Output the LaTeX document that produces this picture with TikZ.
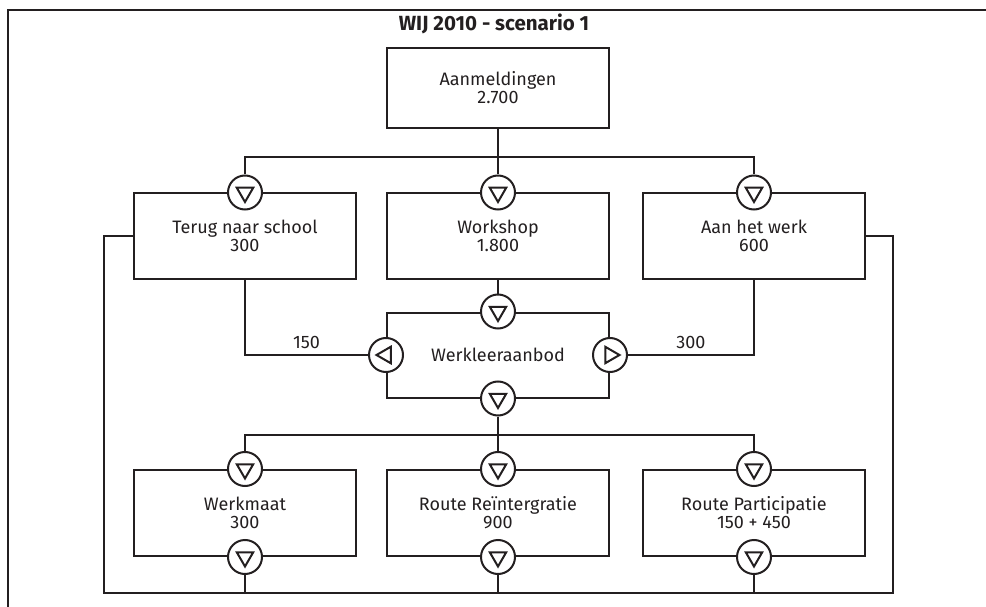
\documentclass[tikz,border=0pt]{standalone}
\usepackage{fontspec}
\setmainfont{Fira Sans}
\usetikzlibrary{shapes.geometric, positioning}
\definecolor{inkgrey}{RGB}{35,31,32}

\begin{document}
\begin{tikzpicture}[x=1pt, y=-1pt,
  box/.style={draw=inkgrey, line width=2pt, minimum width=222pt, minimum height=85pt, align=center, text=inkgrey, font=\fontsize{18}{18}\selectfont},
  valve/.style={circle, draw=inkgrey, fill=white, line width=2pt, minimum size=34pt, inner sep=0pt},
  tri/.style={regular polygon, regular polygon sides=3, draw=inkgrey, line width=2pt, minimum size=19pt, inner sep=0pt},
  flow/.style={draw=inkgrey, line width=2pt},
  lbl/.style={text=inkgrey, font=\fontsize{18}{18}\selectfont}
]
  \useasboundingbox (0,0) rectangle (986,607);
  \draw[inkgrey, line width=2.6pt] (8,607) -- (8,10) -- (986,10);

  \node[text=inkgrey, font=\fontsize{20.5}{20}\selectfont\bfseries] (title) at (494,24) {WIJ 2010 - scenario 1};

  % boxes
  \node[box, minimum height=80pt] (aanm) at (498,88) {Aanmeldingen\\2.700};
  \node[box] (terug) at (245,236) {Terug naar school\\300};
  \node[box] (workshop) at (498,236) {Workshop\\1.800};
  \node[box] (werk) at (754,236) {Aan het werk\\600};
  \node[box] (wla) at (498,355) {Werkleeraanbod};
  \node[box, minimum height=86pt] (maat) at (245,513) {Werkmaat\\300};
  \node[box, minimum height=86pt] (reint) at (498,513) {Route Reïntergratie\\900};
  \node[box, minimum height=86pt] (part) at (754,513) {Route Participatie\\150 + 450};

  % valves
  \foreach \n in {terug, workshop, werk, wla, maat, reint, part} {
    \node[valve] (v\n) at (\n.north) {};
    \node[tri, shape border rotate=180] at (v\n) {};
  }
  \foreach \n in {wla, maat, reint, part} {
    \node[valve] (b\n) at (\n.south) {};
    \node[tri, shape border rotate=180] at (b\n) {};
  }
  \node[valve] (lwla) at (wla.west) {};
  \node[tri, shape border rotate=90] at (lwla) {};
  \node[valve] (rwla) at (wla.east) {};
  \node[tri, shape border rotate=-90] at (rwla) {};

  % connectors
  \coordinate (split1) at (498,157);
  \coordinate (split2) at (498,435);
  \coordinate (fbL) at (104,593);
  \coordinate (fbR) at (893,593);
  \draw[flow] (aanm.south) -- (split1);
  \draw[flow] (vterug) |- (split1) -| (vwerk);
  \draw[flow] (split1) -- (vworkshop);
  \draw[flow] (workshop.south) -- (vwla);
  \draw[flow] (terug.south) |- node[lbl, pos=0.75, above=2pt] {150} (lwla);
  \draw[flow] (werk.south) |- node[lbl, pos=0.75, above=2pt] {300} (rwla);
  \draw[flow] (bwla) -- (split2);
  \draw[flow] (vmaat) |- (split2) -| (vpart);
  \draw[flow] (split2) -- (vreint);
  \draw[flow] (terug.west) -| (fbL) -- (fbR) |- (werk.east);
  \foreach \n in {maat, reint, part}
    \draw[flow] (b\n) -- (b\n |- fbL);
\end{tikzpicture}
\end{document}
